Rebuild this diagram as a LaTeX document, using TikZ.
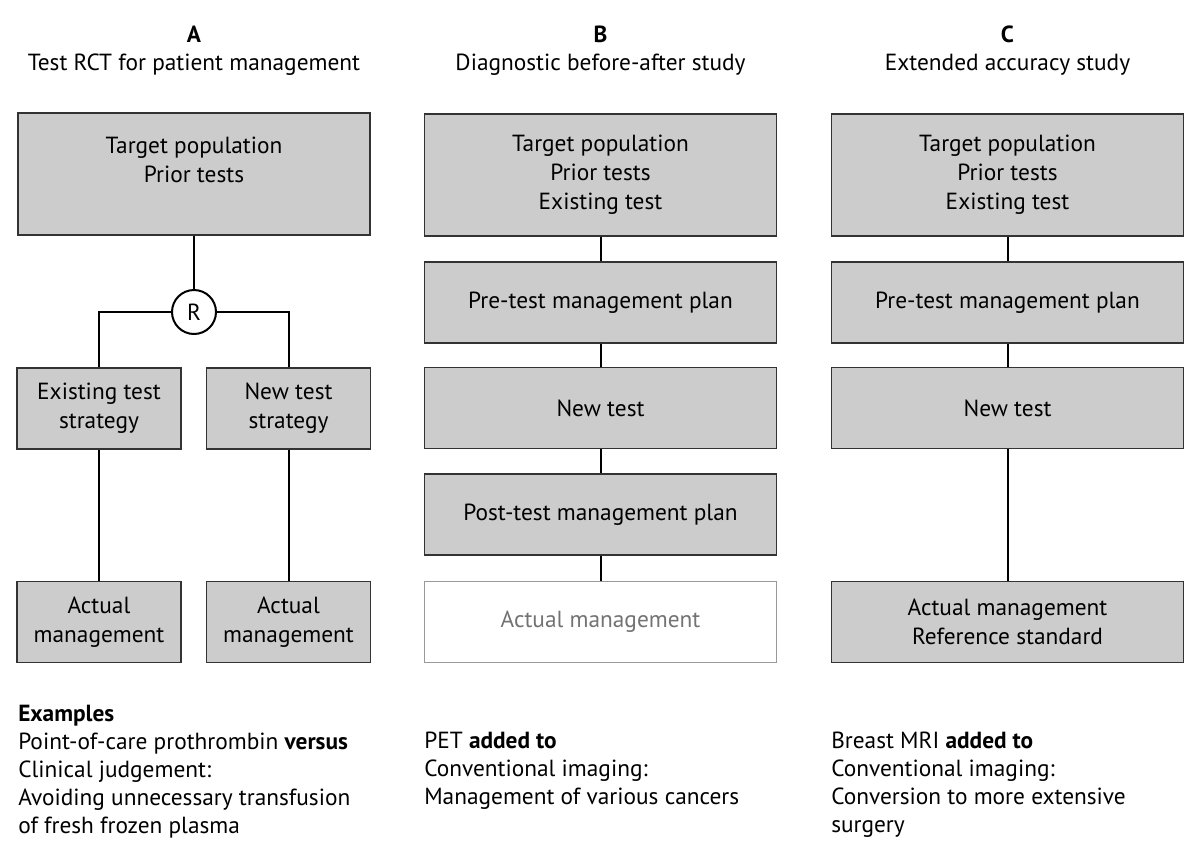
\documentclass[tikz,border=0pt]{standalone}
\usepackage{fontspec}
\setmainfont{PT Sans}
\usetikzlibrary{positioning}
\tikzset{
    box/.style={draw=black!80, fill=black!20, line width=0.8pt, align=center, minimum width=264pt, minimum height=60.75pt, inner sep=0pt}, % grey box
    big box/.style={box, minimum height=91.5pt},
    half box/.style={box, minimum width=123pt},
    open box/.style={box, draw=black!40, fill=white, text=black!55},
    link/.style={line width=1.5pt},
    head/.style={anchor=base, font=\fontsize{17.5}{20}\selectfont},
    example/.style={anchor=north west, inner sep=0pt, align=left, font=\fontsize{17.5}{21}\selectfont}
}

\begin{document}
\begin{tikzpicture}[x=0.75pt, y=-0.75pt, font=\fontsize{17.5}{21.75}\selectfont]
    \useasboundingbox (0,0) rectangle (1200,854);

    % headings
    \node[head, font=\fontsize{17.5}{20}\selectfont\bfseries] (hA) at (194,42) {A};
    \node[head] (tA) at (194,70) {Test RCT for patient management};
    \node[head, font=\fontsize{17.5}{20}\selectfont\bfseries] (hB) at (600.5,42) {B};
    \node[head] (tB) at (600.5,70) {Diagnostic before-after study};
    \node[head, font=\fontsize{17.5}{20}\selectfont\bfseries] (hC) at (1007.5,42) {C};
    \node[head] (tC) at (1007.5,70) {Extended accuracy study};

    % column A
    \node[big box] (Atop) at (194,174) {Target population\\Prior tests\\\mbox{}};
    \node[draw, circle, line width=1.5pt, fill=white, minimum size=33pt, inner sep=0pt] (R) at (194,312) {R};
    \node[half box] (Aold) at (99,408.5) {Existing test\\strategy};
    \node[half box] (Anew) at (288.5,408.5) {New test\\strategy};
    \node[half box] (Aoldact) at (99,622) {Actual\\management};
    \node[half box] (Anewact) at (288.5,622) {Actual\\management};
    \draw[link] (Atop) -- (R);
    \draw[link] (R.west) -| (Aold.north);
    \draw[link] (R.east) -| (Anew.north);
    \draw[link] (Aold) -- (Aoldact);
    \draw[link] (Anew) -- (Anewact);

    % column B
    \node[big box] (Btop) at (600.5,175) {Target population\\Prior tests\\Existing test};
    \node[box] (Bpre) at (600.5,302.5) {Pre-test management plan};
    \node[box] (Bnew) at (600.5,408) {New test};
    \node[box] (Bpost) at (600.5,514.5) {Post-test management plan};
    \node[open box] (Bact) at (600.5,622) {Actual management};
    \foreach \a/\b in {Btop/Bpre, Bpre/Bnew, Bnew/Bpost, Bpost/Bact}
        \draw[link] (\a) -- (\b);

    % column C
    \node[big box] (Ctop) at (1007.5,175) {Target population\\Prior tests\\Existing test};
    \node[box] (Cpre) at (1007.5,302.5) {Pre-test management plan};
    \node[box] (Cnew) at (1007.5,408) {New test};
    \node[box] (Cact) at (1007.5,622) {Actual management\\Reference standard};
    \foreach \a/\b in {Ctop/Cpre, Cpre/Cnew, Cnew/Cact}
        \draw[link] (\a) -- (\b);

    % examples
    \node[example] (exA) at (18,705) {\textbf{Examples}\\Point-of-care prothrombin \textbf{versus}\\Clinical judgement:\\Avoiding unnecessary transfusion\\of fresh frozen plasma};
    \node[example] (exB) at (424,732) {PET \textbf{added to}\\Conventional imaging:\\Management of various cancers};
    \node[example] (exC) at (831,732) {Breast MRI \textbf{added to}\\Conventional imaging:\\Conversion to more extensive\\surgery};
\end{tikzpicture}
\end{document}
